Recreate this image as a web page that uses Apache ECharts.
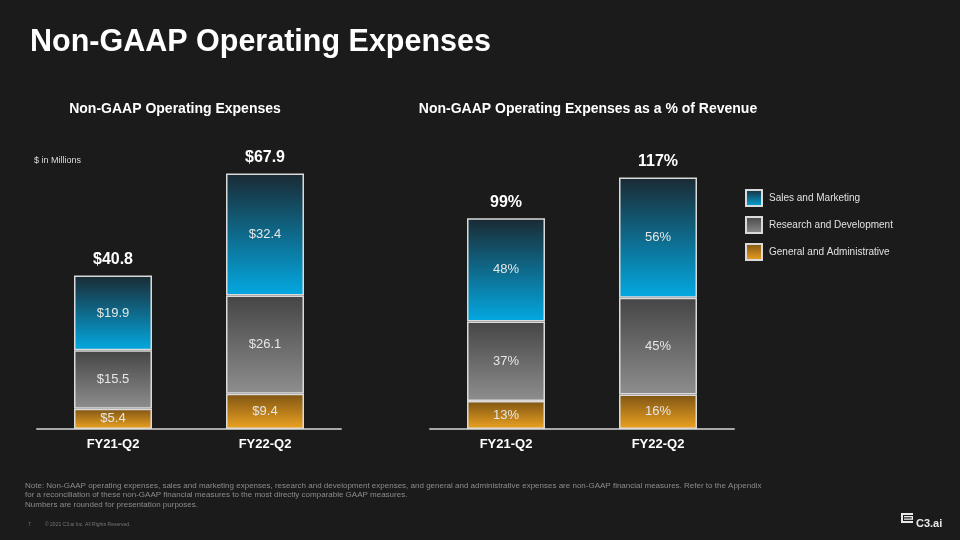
<!DOCTYPE html>
<html>
<head>
<meta charset="utf-8">
<script src="https://cdn.jsdelivr.net/npm/echarts@6/dist/echarts.min.js"></script>
<style>
html,body{margin:0;padding:0;background:#1b1b1b;}
#main{width:960px;height:540px;}
</style>
</head>
<body>
<div id="main"></div>
<script>
// ---- data ----
const categories = ['FY21-Q2', 'FY22-Q2'];
const seriesNames = ['Sales and Marketing', 'Research and Development', 'General and Administrative'];
// $ in millions
const gaDollars = [5.4, 9.4];
const rdDollars = [15.5, 26.1];
const smDollars = [19.9, 32.4];
const totalDollars = [40.8, 67.9];
// % of revenue
const gaPct = [13, 16];
const rdPct = [37, 45];
const smPct = [48, 56];
const totalPct = [99, 117];

const FONT = '"Liberation Sans", Arial, Helvetica, sans-serif';

function grad(top, bottom) {
  return new echarts.graphic.LinearGradient(0, 0, 0, 1, [
    { offset: 0, color: top }, { offset: 1, color: bottom }
  ]);
}
const colSM = grad('#1a2a33', '#03a9e2');
const colRD = grad('#454545', '#8e8e8e');
const colGA = grad('#7e5414', '#eda321');

const border = { borderColor: '#dadada', borderWidth: 1.5 };
const insideLabel = (fmt) => ({
  show: true, position: 'inside', color: '#e6e6e6', fontFamily: FONT, fontSize: 13,
  formatter: fmt
});

function seg(name, data, color, axisIdx, fmt) {
  return {
    name: name, type: 'bar', stack: 's' + axisIdx, xAxisIndex: axisIdx, yAxisIndex: axisIdx,
    barWidth: 78, data: data,
    itemStyle: Object.assign({ color: color }, border),
    label: insideLabel(fmt),
    emphasis: { disabled: true }
  };
}
function totalSeries(axisIdx, totals, fmt) {
  return {
    type: 'bar', stack: 's' + axisIdx, xAxisIndex: axisIdx, yAxisIndex: axisIdx,
    barWidth: 78, data: totals.map(() => 0), silent: true,
    itemStyle: { color: 'transparent', borderWidth: 0 },
    label: {
      show: true, position: 'top', distance: 8, color: '#ffffff', fontFamily: FONT,
      fontSize: 16, fontWeight: 'bold',
      formatter: (p) => fmt(totals[p.dataIndex])
    }
  };
}

const dollarFmt = (p) => '$' + p.value.toFixed(1);
const pctFmt = (p) => p.value + '%';

const chart = echarts.init(document.getElementById('main'));
const xAxisBase = {
  type: 'category', data: categories,
  axisLine: { show: true, lineStyle: { color: '#a8a8a8', width: 2 } },
  axisTick: { show: false },
  axisLabel: { color: '#ffffff', fontFamily: FONT, fontSize: 13, fontWeight: 'bold', margin: 9 }
};
const yAxisBase = {
  type: 'value', min: 0, show: false, splitLine: { show: false }
};

chart.setOption({
  backgroundColor: '#1b1b1b',
  animation: false,
  title: [
    { text: 'Non-GAAP Operating Expenses', left: 30, top: 27, padding: 0,
      textStyle: { color: '#ffffff', fontFamily: FONT, fontSize: 30.5, fontWeight: 'bold' } },
    { text: 'Non-GAAP Operating Expenses', left: 175, top: 102, padding: 0, textAlign: 'center',
      textStyle: { color: '#ffffff', fontFamily: FONT, fontSize: 14, fontWeight: 'bold' } },
    { text: 'Non-GAAP Operating Expenses as a % of Revenue', left: 588, top: 102, padding: 0, textAlign: 'center',
      textStyle: { color: '#ffffff', fontFamily: FONT, fontSize: 14, fontWeight: 'bold' } },
    { text: '$ in Millions', left: 34, top: 156, padding: 0,
      textStyle: { color: '#dddddd', fontFamily: FONT, fontSize: 9, fontWeight: 'normal' } },
    { text: 'Note: Non-GAAP operating expenses, sales and marketing expenses, research and development expenses, and general and administrative expenses are non-GAAP financial measures. Refer to the Appendix\nfor a reconciliation of these non-GAAP financial measures to the most directly comparable GAAP measures.\nNumbers are rounded for presentation purposes.',
      left: 25, top: 481, padding: 0,
      textStyle: { color: '#8c8c8c', fontFamily: FONT, fontSize: 8, fontWeight: 'normal', lineHeight: 9.5 } },
    { text: '7', left: 28, top: 522, padding: 0,
      textStyle: { color: '#777777', fontFamily: FONT, fontSize: 5, fontWeight: 'normal' } },
    { text: '© 2021 C3.ai Inc. All Rights Reserved.', left: 45, top: 522, padding: 0,
      textStyle: { color: '#777777', fontFamily: FONT, fontSize: 5, fontWeight: 'normal' } },
    { text: 'C3.ai', left: 916, top: 518, padding: 0,
      textStyle: { color: '#e8e8e8', fontFamily: FONT, fontSize: 11, fontWeight: 'bold' } }
  ],
  legend: {
    data: seriesNames, orient: 'vertical', left: 745, top: 189, padding: 0,
    itemWidth: 16, itemHeight: 16, itemGap: 9, icon: 'rect',
    textStyle: { color: '#e0e0e0', fontFamily: FONT, fontSize: 10, padding: [0, 0, 0, 2] },
    selectedMode: false
  },
  grid: [
    { left: 37, width: 304, top: 128, height: 301 },
    { left: 430, width: 304, top: 128, height: 301 }
  ],
  xAxis: [
    Object.assign({ gridIndex: 0 }, xAxisBase),
    Object.assign({ gridIndex: 1 }, xAxisBase)
  ],
  yAxis: [
    Object.assign({ gridIndex: 0, max: 80 }, yAxisBase),
    Object.assign({ gridIndex: 1, max: 140 }, yAxisBase)
  ],
  series: [
    seg(seriesNames[2], gaDollars, colGA, 0, dollarFmt),
    seg(seriesNames[1], rdDollars, colRD, 0, dollarFmt),
    seg(seriesNames[0], smDollars, colSM, 0, dollarFmt),
    totalSeries(0, totalDollars, (v) => '$' + v.toFixed(1)),
    seg(seriesNames[2], gaPct, colGA, 1, pctFmt),
    seg(seriesNames[1], rdPct, colRD, 1, pctFmt),
    seg(seriesNames[0], smPct, colSM, 1, pctFmt),
    totalSeries(1, totalPct, (v) => v + '%')
  ],
  graphic: [
    { type: 'group', left: 901, top: 513, children: [
      { type: 'rect', shape: { x: 0, y: 0, width: 12, height: 2 }, style: { fill: '#e8e8e8' } },
      { type: 'rect', shape: { x: 0, y: 0, width: 2, height: 10 }, style: { fill: '#e8e8e8' } },
      { type: 'rect', shape: { x: 0, y: 8, width: 12, height: 2 }, style: { fill: '#e8e8e8' } },
      { type: 'rect', shape: { x: 3, y: 3, width: 9, height: 1.3 }, style: { fill: '#e8e8e8' } },
      { type: 'rect', shape: { x: 3, y: 5.5, width: 9, height: 1.3 }, style: { fill: '#e8e8e8' } },
      { type: 'rect', shape: { x: 10.7, y: 3, width: 1.3, height: 3.8 }, style: { fill: '#e8e8e8' } }
    ]}
  ]
});
</script>
</body>
</html>
